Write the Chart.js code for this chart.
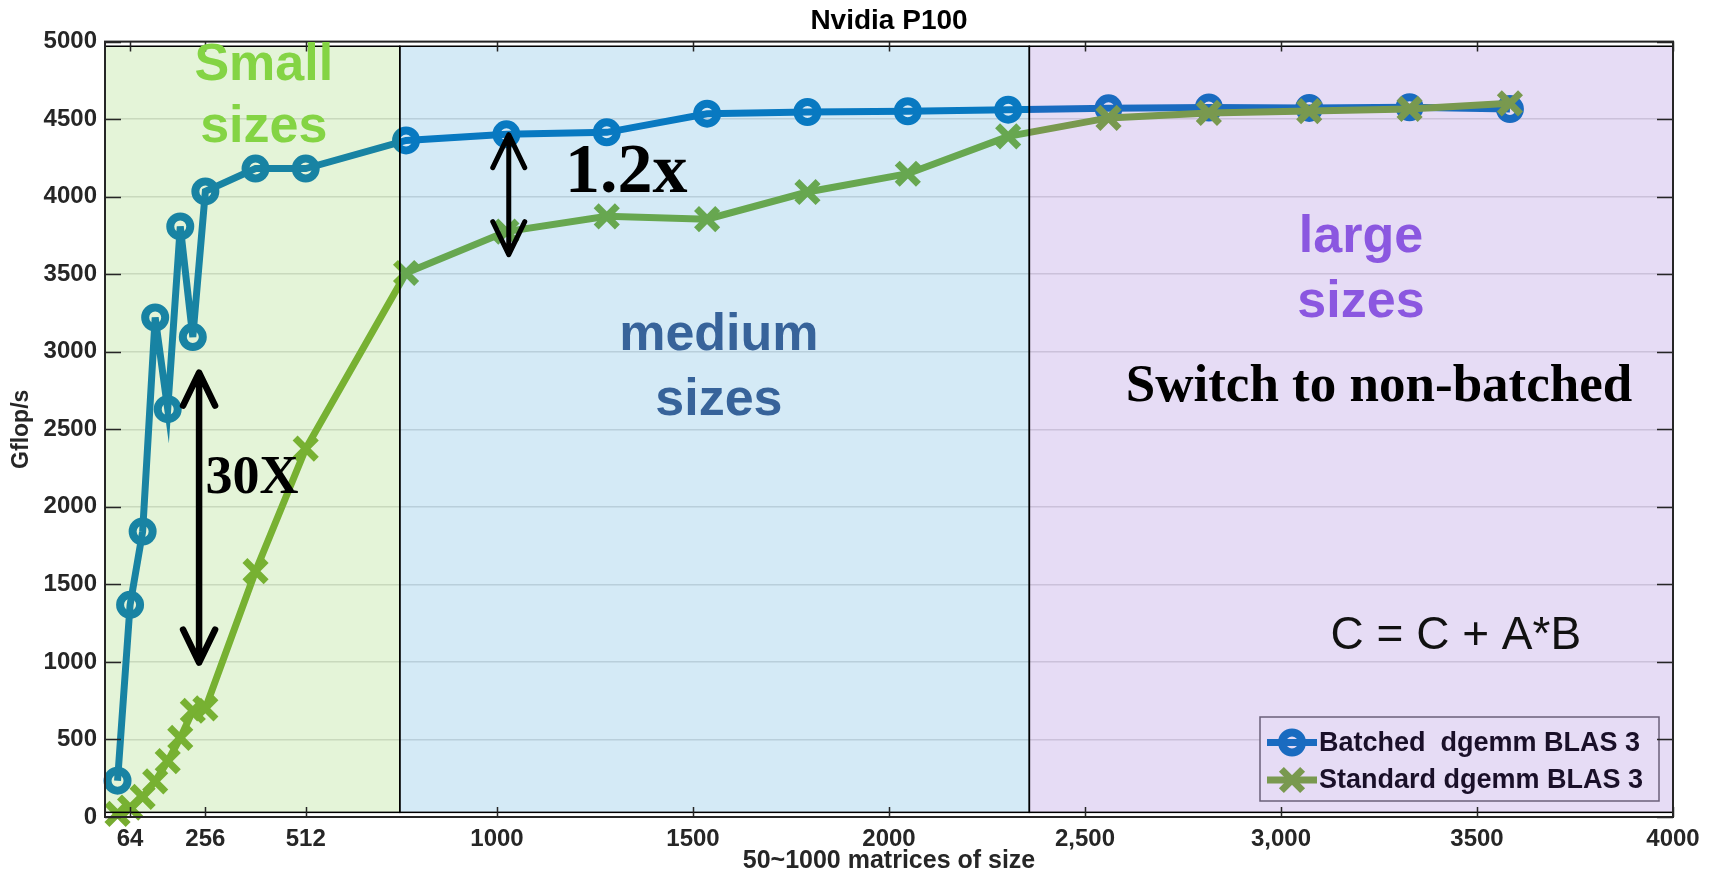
<!DOCTYPE html>
<html>
<head>
<meta charset="utf-8">
<title>Nvidia P100 batched dgemm</title>
<script src="https://cdn.jsdelivr.net/npm/chart.js@4.4.1/dist/chart.umd.min.js"></script>
<style>
  html, body { margin: 0; padding: 0; background: #ffffff; }
  #wrap { width: 1714px; height: 875px; }
</style>
</head>
<body>
<div id="wrap"><canvas id="perf" width="1714" height="875"></canvas></div>
<script>
// Matrix sizes (x) and measured performance in Gflop/s
const matrixSizes = [32, 64, 96, 128, 160, 192, 224, 256, 384, 512, 768, 1024, 1280, 1536, 1792, 2048, 2304, 2560, 2816, 3072, 3328, 3584];
const batchedGflops = [234, 1368, 1841, 3221, 2630, 3808, 3095, 4034, 4181, 4181, 4363, 4402, 4415, 4535, 4546, 4551, 4561, 4570, 4575, 4572, 4576, 4565];
const standardGflops = [20, 60, 130, 230, 360, 510, 685, 700, 1585, 2375, 3508, 3775, 3873, 3855, 4030, 4148, 4389, 4508, 4540, 4552, 4566, 4602];

// Axis ticks
const xTickValues = [64, 256, 512, 1000, 1500, 2000, 2500, 3000, 3500, 4000];
const xTickLabels = ['64', '256', '512', '1000', '1500', '2000', '2,500', '3,000', '3500', '4000'];
const yTickStep = 500;

// Size classes (x extents)
const regionEdges = [0, 752, 2358, 4000];
const regionFills = ['rgba(120,200,60,0.2)', 'rgba(40,150,210,0.2)', 'rgba(130,80,205,0.2)'];
const regionFloor = 30, regionCeil = 4970;

const SANS = "'Liberation Sans', Arial, Helvetica, sans-serif";
const SERIF = "'Liberation Serif', 'Times New Roman', serif";

// Text notes placed in data coordinates (x = size, y = Gflop/s at the baseline)
const notes = [
  { text: 'Small', x: 405, y: 4755, font: 'bold 52px ' + SANS, color: '#84d444' },
  { text: 'sizes', x: 405, y: 4355, font: 'bold 52px ' + SANS, color: '#84d444' },
  { text: 'medium', x: 1566, y: 3013, font: 'bold 52px ' + SANS, color: '#37639a' },
  { text: 'sizes', x: 1566, y: 2594, font: 'bold 52px ' + SANS, color: '#37639a' },
  { text: 'large', x: 3204, y: 3645, font: 'bold 52px ' + SANS, color: '#8b57e0' },
  { text: 'sizes', x: 3204, y: 3226, font: 'bold 52px ' + SANS, color: '#8b57e0' },
  { text: 'Switch to non-batched', x: 3250, y: 2684, font: 'bold 53px ' + SERIF, color: '#000000' },
  { text: '1.2x', x: 1330, y: 4032, font: 'bold 70px ' + SERIF, color: '#000000' },
  { text: '30X', x: 375, y: 2090, font: 'bold 54px ' + SERIF, color: '#000000' },
  { text: 'C = C + A*B', x: 3446, y: 1084, font: '46px ' + SANS, color: '#111111' }
];
// Double-headed speed-up arrows
const arrows = [
  { x: 1030, yTop: 4400, yBottom: 3626, width: 5 },
  { x: 240, yTop: 2865, yBottom: 995, width: 6.5 }
];

function drawMarker(ctx, style, radius, borderWidth, px, py) {
  if (Chart.helpers && Chart.helpers.drawPoint) {
    Chart.helpers.drawPoint(ctx, { pointStyle: style, radius: radius, borderWidth: borderWidth, rotation: 0 }, px, py);
  }
}

function drawLegendBox(chart) {
  const ctx = chart.ctx, area = chart.chartArea;
  const w = 399, h = 84;
  const bx = area.right - 14 - w, by = area.bottom - 16 - h;
  ctx.fillStyle = '#ffffff';
  ctx.fillRect(bx, by, w, h);
  ctx.strokeStyle = 'rgb(100,100,100)';
  ctx.lineWidth = 1.5;
  ctx.strokeRect(bx, by, w, h);
  const rows = [by + 25.5, by + 63];
  const names = ['Batched  dgemm BLAS 3', 'Standard dgemm BLAS 3'];
  chart.data.datasets.forEach((ds, i) => {
    const ry = rows[i];
    ctx.strokeStyle = ds.borderColor;
    ctx.lineWidth = ds.borderWidth;
    ctx.lineCap = 'butt';
    ctx.beginPath();
    ctx.moveTo(bx + 7, ry);
    ctx.lineTo(bx + 57, ry);
    ctx.stroke();
    ctx.fillStyle = 'rgba(0,0,0,0)';
    ctx.strokeStyle = ds.pointBorderColor;
    ctx.lineWidth = ds.pointBorderWidth;
    drawMarker(ctx, ds.pointStyle, ds.pointRadius, ds.pointBorderWidth, bx + 32, ry);
    ctx.fillStyle = '#000000';
    ctx.font = 'bold 27px ' + SANS;
    ctx.textAlign = 'left';
    ctx.textBaseline = 'middle';
    ctx.fillText(names[i], bx + 59, ry + 1);
  });
}

const overlayPlugin = {
  id: 'sizeClassOverlay',
  afterDatasetsDraw(chart) {
    const ctx = chart.ctx, area = chart.chartArea;
    const xs = chart.scales.x, ys = chart.scales.y;
    ctx.save();
    drawLegendBox(chart);

    // translucent bands for the three size classes, over the curves
    const top = ys.getPixelForValue(regionCeil), bot = ys.getPixelForValue(regionFloor);
    for (let i = 0; i < regionFills.length; i++) {
      const x0 = xs.getPixelForValue(regionEdges[i]), x1 = xs.getPixelForValue(regionEdges[i + 1]);
      ctx.fillStyle = regionFills[i];
      ctx.fillRect(x0, top, x1 - x0, bot - top);
    }
    ctx.strokeStyle = '#000000';
    ctx.lineWidth = 1.5;
    for (let i = 0; i < regionFills.length; i++) {
      const x0 = xs.getPixelForValue(regionEdges[i]), x1 = xs.getPixelForValue(regionEdges[i + 1]);
      ctx.strokeRect(x0, top, x1 - x0, bot - top);
    }

    // axes box with inward tick marks
    ctx.strokeStyle = '#262626';
    ctx.lineWidth = 2;
    ctx.strokeRect(area.left, area.top, area.right - area.left, area.bottom - area.top);
    ctx.lineWidth = 1.5;
    ctx.beginPath();
    xTickValues.forEach(v => {
      const px = Math.round(xs.getPixelForValue(v)) + 0.5;
      ctx.moveTo(px, area.bottom); ctx.lineTo(px, area.bottom - 10);
      ctx.moveTo(px, area.top); ctx.lineTo(px, area.top + 10);
    });
    ys.ticks.forEach(t => {
      const py = Math.round(ys.getPixelForValue(t.value)) + 0.5;
      ctx.moveTo(area.left, py); ctx.lineTo(area.left + 16, py);
      ctx.moveTo(area.right, py); ctx.lineTo(area.right - 16, py);
    });
    ctx.stroke();

    // speed-up arrows
    ctx.strokeStyle = '#000000';
    ctx.lineCap = 'round';
    ctx.lineJoin = 'round';
    arrows.forEach(a => {
      const px = xs.getPixelForValue(a.x);
      const y0 = ys.getPixelForValue(a.yTop), y1 = ys.getPixelForValue(a.yBottom);
      ctx.lineWidth = a.width;
      ctx.beginPath();
      ctx.moveTo(px, y0 + 2); ctx.lineTo(px, y1 - 2);
      ctx.moveTo(px - 16, y0 + 33); ctx.lineTo(px, y0); ctx.lineTo(px + 16, y0 + 33);
      ctx.moveTo(px - 16, y1 - 33); ctx.lineTo(px, y1); ctx.lineTo(px + 16, y1 - 33);
      ctx.stroke();
    });

    // labels
    ctx.textAlign = 'center';
    ctx.textBaseline = 'alphabetic';
    notes.forEach(n => {
      ctx.font = n.font;
      ctx.fillStyle = n.color;
      ctx.fillText(n.text, xs.getPixelForValue(n.x), ys.getPixelForValue(n.y));
    });
    ctx.restore();
  }
};

const toPoints = vals => matrixSizes.map((s, i) => ({ x: s, y: vals[i] }));

new Chart(document.getElementById('perf'), {
  type: 'line',
  data: {
    datasets: [
      {
        label: 'Batched  dgemm BLAS 3',
        data: toPoints(batchedGflops),
        borderColor: '#0072BD',
        borderWidth: 7,
        pointStyle: 'circle',
        pointRadius: 10,
        pointBorderWidth: 8,
        pointBorderColor: '#0072BD',
        pointBackgroundColor: 'rgba(0,0,0,0)',
        borderJoinStyle: 'miter',
        tension: 0,
        clip: false,
        order: 1
      },
      {
        label: 'Standard dgemm BLAS 3',
        data: toPoints(standardGflops),
        borderColor: '#77AC30',
        borderWidth: 7,
        pointStyle: 'crossRot',
        pointRadius: 15,
        pointBorderWidth: 7,
        pointBorderColor: '#77AC30',
        pointBackgroundColor: 'rgba(0,0,0,0)',
        borderJoinStyle: 'miter',
        tension: 0,
        clip: false,
        order: 0
      }
    ]
  },
  options: {
    responsive: false,
    devicePixelRatio: 1,
    animation: false,
    events: [],
    layout: { padding: { left: 0, right: 41, top: 0, bottom: 0 } },
    plugins: {
      legend: { display: false },
      tooltip: { enabled: false },
      title: {
        display: true,
        text: 'Nvidia P100',
        fullSize: false,
        color: '#000000',
        font: { family: SANS, size: 28, weight: 'bold', lineHeight: 1.2 },
        padding: { top: 4, bottom: 4 }
      }
    },
    scales: {
      x: {
        type: 'linear',
        min: 0,
        max: 4000,
        afterFit: s => { s.height = 58; },
        afterBuildTicks: s => { s.ticks = xTickValues.map(v => ({ value: v })); },
        ticks: {
          autoSkip: false,
          maxRotation: 0,
          padding: 8,
          color: '#262626',
          font: { family: SANS, size: 24, weight: 'bold' },
          callback: v => xTickLabels[xTickValues.indexOf(v)]
        },
        grid: { display: false, drawTicks: false },
        border: { display: false },
        title: {
          display: true,
          text: '50~1000 matrices of size',
          color: '#262626',
          font: { family: SANS, size: 25, weight: 'bold', lineHeight: 1.1 },
          padding: { top: 0, bottom: 0 }
        }
      },
      y: {
        type: 'linear',
        min: 0,
        max: 5000,
        afterFit: s => { s.width = 105; },
        ticks: {
          stepSize: yTickStep,
          padding: 8,
          color: '#262626',
          font: { family: SANS, size: 24, weight: 'bold' },
          callback: v => String(v)
        },
        grid: { color: 'rgb(222,222,222)', lineWidth: 1.5, drawTicks: false },
        border: { display: false },
        title: {
          display: true,
          text: 'Gflop/s',
          color: '#262626',
          font: { family: SANS, size: 23, weight: 'bold', lineHeight: 1.2 },
          padding: { top: 8, bottom: 0 }
        }
      }
    }
  },
  plugins: [overlayPlugin]
});
</script>
</body>
</html>
